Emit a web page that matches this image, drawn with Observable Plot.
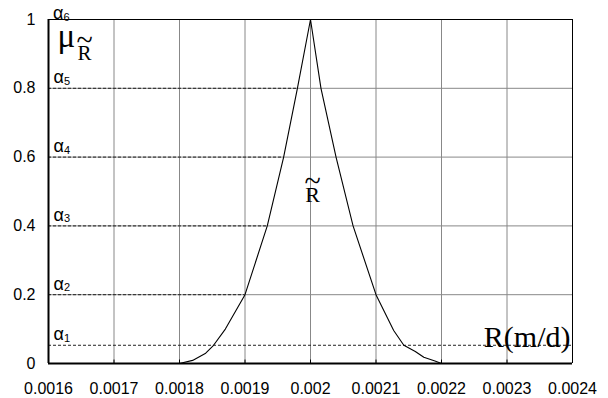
<!DOCTYPE html>
<html>
<head>
<meta charset="utf-8">
<script src="https://cdn.jsdelivr.net/npm/d3@7"></script>
<script src="https://cdn.jsdelivr.net/npm/@observablehq/plot@0.6"></script>
<style>
  html, body { margin: 0; padding: 0; background: #fff; }
</style>
</head>
<body>
<div id="chart"></div>
<script>
// Tick values and labels
const xTicks = [0.0016, 0.0017, 0.0018, 0.0019, 0.002, 0.0021, 0.0022, 0.0023, 0.0024];
const xTickLabels = ["0.0016", "0.0017", "0.0018", "0.0019", "0.002", "0.0021", "0.0022", "0.0023", "0.0024"];
const yTicks = [0, 0.2, 0.4, 0.6, 0.8, 1];
const yTickLabels = ["0", "0.2", "0.4", "0.6", "0.8", "1"];

// Membership function of R~
const curveR  = [0.0018, 0.00182, 0.00184, 0.001852, 0.00187, 0.0019, 0.001934, 0.001959, 0.00198, 0.002,
                 0.002016, 0.002039, 0.002065, 0.0021, 0.002127, 0.0021425, 0.00216, 0.002173, 0.00219, 0.0022];
const curveMu = [0, 0.009, 0.03, 0.053, 0.1, 0.2, 0.4, 0.6, 0.8, 1,
                 0.8, 0.6, 0.4, 0.2, 0.096, 0.053, 0.035, 0.018, 0.007, 0];

// Alpha cut levels
const alphaLevels = [0.053, 0.2, 0.4, 0.6, 0.8, 1];
const alphaNames  = ["1", "2", "3", "4", "5", "6"];
const alphaEnds   = [0.0024, 0.0019, 0.001934, 0.001959, 0.00198, null];

const curve = curveR.map((r, i) => ({r, mu: curveMu[i]}));
const alphas = alphaLevels.map((a, i) => ({a, name: alphaNames[i], end: alphaEnds[i]}));
const dashed = alphas.filter(d => d.end != null);
const alphaLow = alphas.filter(d => d.a < 1);
const alphaTop = alphas.filter(d => d.a === 1);

const xmin = xTicks[0], xmax = xTicks[xTicks.length - 1];
const serif = "'Liberation Serif', 'Times New Roman', serif";
const sans = "'Liberation Sans', Arial, sans-serif";

const chart = Plot.plot({
  width: 608,
  height: 398,
  marginLeft: 48,
  marginRight: 36,
  marginTop: 19,
  marginBottom: 35,
  style: {fontFamily: sans, fontSize: "16px", color: "#000", background: "#fff", overflow: "visible"},
  x: {domain: [xmin, xmax], ticks: xTicks, tickFormat: d => xTickLabels[xTicks.indexOf(d)], tickSize: 0, tickPadding: 19, label: null},
  y: {domain: [0, 1], ticks: yTicks, tickFormat: d => yTickLabels[yTicks.indexOf(d)], tickSize: 0, tickPadding: 13, label: null},
  marks: [
    Plot.ruleX(xTicks, {x: d => d, stroke: "#888", strokeWidth: 1}),
    Plot.ruleY(yTicks, {y: d => d, stroke: "#888", strokeWidth: 1}),
    Plot.ruleY(dashed, {y: "a", x1: () => xmin, x2: "end", stroke: "#222", strokeWidth: 1, strokeDasharray: "3,2"}),
    Plot.ruleX([xmax], {x: d => d, stroke: "#000", strokeWidth: 1}),
    Plot.ruleY([1], {y: d => d, stroke: "#000", strokeWidth: 1}),
    Plot.ruleX([xmin], {x: d => d, stroke: "#000", strokeWidth: 2}),
    Plot.ruleY([0], {y: d => d, stroke: "#000", strokeWidth: 2}),
    Plot.ruleX(xTicks, {x: d => d, y1: 0, y2: 0.01, stroke: "#000", strokeWidth: 1}),
    Plot.line(curve, {x: "r", y: "mu", stroke: "#000", strokeWidth: 1.1}),
    // alpha labels
    Plot.text(alphaLow, {x: () => xmin, y: "a", text: () => "α", dx: 5, dy: -5, textAnchor: "start", lineAnchor: "bottom", fontSize: 18, fontFamily: sans, fill: "#000"}),
    Plot.text(alphaLow, {x: () => xmin, y: "a", text: "name", dx: 15.5, dy: -3.5, textAnchor: "start", lineAnchor: "bottom", fontSize: 11, fontFamily: sans, fill: "#000"}),
    Plot.text(alphaTop, {x: () => xmin, y: "a", text: () => "α", dx: 4.5, dy: -0.5, textAnchor: "start", lineAnchor: "bottom", fontSize: 18, fontFamily: sans, fill: "#000"}),
    Plot.text(alphaTop, {x: () => xmin, y: "a", text: "name", dx: 15, dy: 1, textAnchor: "start", lineAnchor: "bottom", fontSize: 11, fontFamily: sans, fill: "#000"}),
    // mu_R~ label
    Plot.text([1], {x: () => xmin, y: d => d, text: () => "μ", dx: 9, dy: 27, textAnchor: "start", lineAnchor: "bottom", fontSize: 33, fontFamily: serif, fill: "#000"}),
    Plot.text([1], {x: () => xmin, y: d => d, text: () => "R", dx: 36, dy: 40, textAnchor: "middle", lineAnchor: "bottom", fontSize: 21, fontFamily: serif, fill: "#000"}),
    Plot.text([1], {x: () => xmin, y: d => d, text: () => "~", dx: 36, dy: 30, textAnchor: "middle", lineAnchor: "bottom", fontSize: 30, fontFamily: serif, fill: "#000"}),
    // central R~ label
    Plot.text([0.47], {x: () => 0.002, y: d => d, text: () => "R", dx: 2, dy: 0, textAnchor: "middle", lineAnchor: "bottom", fontSize: 22, fontFamily: serif, fill: "#000"}),
    Plot.text([0.47], {x: () => 0.002, y: d => d, text: () => "~", dx: 2, dy: -11, textAnchor: "middle", lineAnchor: "bottom", fontSize: 30, fontFamily: serif, fill: "#000"}),
    // x axis title
    Plot.text([0], {x: () => xmax, y: d => d, text: () => "R(m/d)", dx: -2, dy: -17, textAnchor: "end", lineAnchor: "bottom", fontSize: 30, fontFamily: serif, fill: "#000"})
  ]
});
document.getElementById("chart").appendChild(chart);
</script>
</body>
</html>
